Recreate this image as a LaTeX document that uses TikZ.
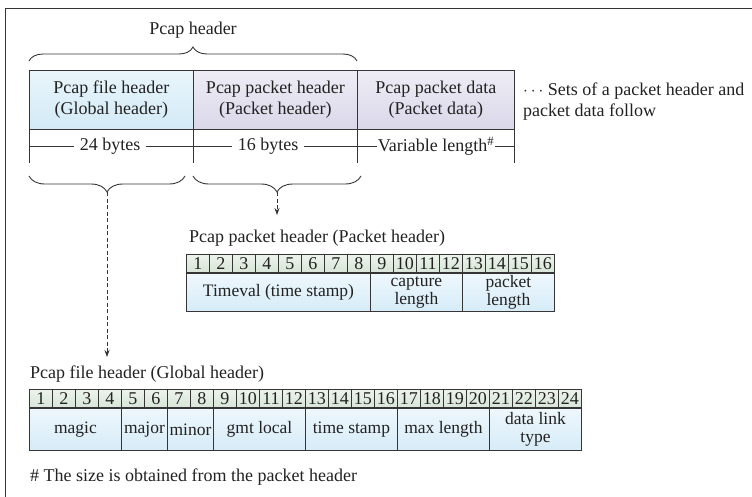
\documentclass[tikz,border=0pt]{standalone}
\usepackage{fontspec}
\setmainfont{Liberation Serif}
\usetikzlibrary{arrows.meta,decorations.pathreplacing}

\definecolor{ink}{HTML}{222222}
\definecolor{rulegray}{HTML}{353535}
\definecolor{blueTop}{HTML}{E9F5FB}
\definecolor{blueBot}{HTML}{D3EAF6}
\definecolor{lavTop}{HTML}{EEEDF5}
\definecolor{lavBot}{HTML}{DAD7E9}
\definecolor{greenTop}{HTML}{ECF3EC}
\definecolor{greenBot}{HTML}{D8E5D8}
\definecolor{fieldTop}{HTML}{EEF7FC}
\definecolor{fieldBot}{HTML}{D6ECF8}

\tikzset{
  frame/.style={draw=rulegray, line width=1pt},
  rule/.style={draw=rulegray, line width=0.9pt},
  cellbase/.style={draw=rulegray, line width=0.9pt, inner sep=0pt,
    align=center, anchor=north west, text=ink},
  hdrblue/.style={cellbase, top color=blueTop, bottom color=blueBot},
  hdrlav/.style={cellbase, top color=lavTop, bottom color=lavBot},
  numcell/.style={cellbase, top color=greenTop, bottom color=greenBot},
  fieldcell/.style={cellbase, top color=fieldTop, bottom color=fieldBot,
    font=\fontsize{17.5}{17.5}\selectfont},
  dimlabel/.style={fill=white, inner ysep=1pt, inner xsep=6pt, text=ink},
  plain/.style={inner sep=0pt, text=ink},
  bracestyle/.style={draw=rulegray, line width=0.9pt, decorate,
    decoration={brace, amplitude=14pt}},
  bracedown/.style={draw=rulegray, line width=0.9pt, decorate,
    decoration={brace, mirror, amplitude=16pt}},
  dasharrow/.style={draw=rulegray, line width=0.8pt,
    dash pattern=on 4pt off 2.5pt,
    -{Stealth[length=7pt, width=5pt]}},
}

\begin{document}
\begin{tikzpicture}[x=1pt, y=-1pt, font=\fontsize{18}{21}\selectfont]
\useasboundingbox (0,0) rectangle (752,496);

% outer frame (left and top edges only)
\draw[frame] (5,497) -- (5,8) -- (753,8);

% ---- pcap file layout ----
\node[plain] (pcaphdr) at (193,30) {Pcap header};
\draw[bracestyle] (29,61) -- (357,61);

\node[hdrblue, minimum width=164pt, minimum height=59pt] (fh) at (29,70)
  {Pcap file header\\(Global header)};
\node[hdrlav, minimum width=164pt, minimum height=59pt] (ph) at (193,70)
  {Pcap packet header\\(Packet header)};
\node[hdrlav, minimum width=157pt, minimum height=59pt] (pd) at (357,70)
  {Pcap packet data\\(Packet data)};

% size row below the headers
\draw[rule] (fh.south west) -- ++(0,33);
\draw[rule] (ph.south west) -- ++(0,33);
\draw[rule] (pd.south west) -- ++(0,33);
\draw[rule] (pd.south east) -- ++(0,33);

\coordinate (dimL) at (29,146);
\coordinate (dimR) at (514,146);
\node[dimlabel] (b24) at (110,146) {24 bytes};
\node[dimlabel] (b16) at (268,146) {16 bytes};
\node[dimlabel, inner xsep=1pt] (bvar) at (436,146) {Variable length\textsuperscript{\#}};
\draw[rule] (dimL) -- (b24);
\draw[rule] (b24) -- (b16);
\draw[rule] (b16) -- (bvar);
\draw[rule] (bvar) -- (dimR);

\node[plain, anchor=west, align=left] (follow) at (523,102)
  {$\cdots$ Sets of a packet header and\\packet data follow};

% braces under the two header blocks
\draw[bracedown] (29,176) -- (185,176);
\draw[bracedown] (193,176) -- (361,176);
\coordinate (cuspA) at (107,192);
\coordinate (cuspB) at (277,192);
\coordinate (endA) at (107,357);
\coordinate (endB) at (277,215);
\draw[dasharrow] (cuspA) -- (endA);
\draw[dasharrow] (cuspB) -- (endB);

% ---- packet header detail ----
\node[plain, anchor=west] (pktitle) at (189,238) {Pcap packet header (Packet header)};
\foreach \i in {1,...,16}
  \node[numcell, minimum width=23pt, minimum height=18pt] (pn\i)
    at ({186+23*(\i-1)},254) {\i};
\node[fieldcell, minimum width=184pt, minimum height=38pt] (ptime) at (pn1.south west)
  {Timeval (time stamp)};
\node[fieldcell, minimum width=92pt, minimum height=38pt] (pcap) at (pn9.south west)
  {capture\\length};
\node[fieldcell, minimum width=92pt, minimum height=38pt] (plen) at (pn13.south west)
  {packet\\length};

% ---- global header detail ----
\node[plain, anchor=west] (gltitle) at (30,374) {Pcap file header (Global header)};
\foreach \i in {1,...,24}
  \node[numcell, minimum width=23pt, minimum height=18pt] (gn\i)
    at ({29+23*(\i-1)},389) {\i};
\node[fieldcell, minimum width=92pt, minimum height=42pt] (gmagic) at (gn1.south west) {magic};
\node[fieldcell, minimum width=46pt, minimum height=42pt] (gmajor) at (gn5.south west) {major};
\node[fieldcell, minimum width=46pt, minimum height=42pt] (gminor) at (gn7.south west) {minor};
\node[fieldcell, minimum width=92pt, minimum height=42pt] (ggmt) at (gn9.south west) {gmt local};
\node[fieldcell, minimum width=92pt, minimum height=42pt] (gts) at (gn13.south west) {time stamp};
\node[fieldcell, minimum width=92pt, minimum height=42pt] (gmax) at (gn17.south west) {max length};
\node[fieldcell, minimum width=92pt, minimum height=42pt] (glink) at (gn21.south west) {data link\\type};

\node[plain, anchor=west] (note) at (30,477) {\# The size is obtained from the packet header};
\end{tikzpicture}
\end{document}
